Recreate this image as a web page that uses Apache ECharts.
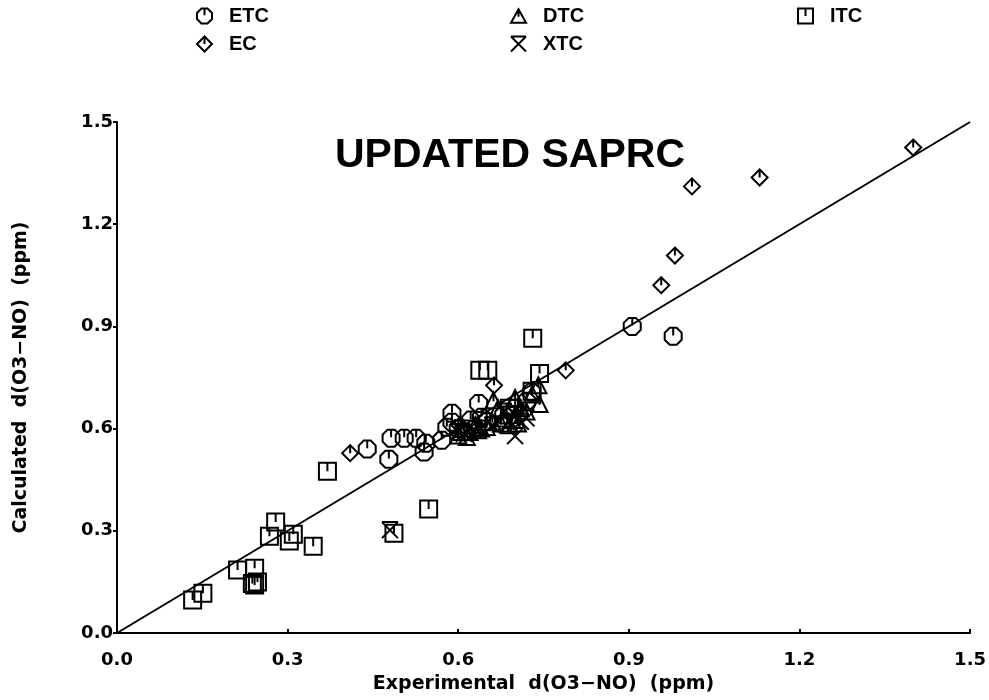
<!DOCTYPE html>
<html>
<head>
    <meta charset="utf-8">
    <title>UPDATED SAPRC</title>
    <script type="text/javascript" src="https://cdn.jsdelivr.net/npm/echarts@6/dist/echarts.min.js"></script>
</head>
<body style="margin:0;background:#fff;">
<div id="main" style="width:989px;height:700px;"></div>
<script type="text/javascript">
    // experimental vs calculated d(O3-NO), ppm
    var etcData = [[0.906,0.900],[0.978,0.871],[0.44,0.540],[0.478,0.51],[0.482,0.572],[0.505,0.572],
        [0.526,0.572],[0.543,0.557],[0.54,0.531],[0.571,0.566],[0.589,0.645],[0.589,0.619],[0.58,0.604],
        [0.622,0.625],[0.636,0.674],[0.641,0.633],[0.729,0.707],[0.60,0.60],[0.61,0.59],[0.65,0.62],
        [0.68,0.64],[0.70,0.66],[0.72,0.68]];
    var ecData = [[1.40,1.425],[1.13,1.337],[1.011,1.311],[0.981,1.108],[0.957,1.021],[0.789,0.771],
        [0.41,0.528],[0.663,0.727]];
    var dtcData = [[0.743,0.672],[0.741,0.727],[0.662,0.683],[0.60,0.58],[0.62,0.59],[0.63,0.61],
        [0.64,0.60],[0.66,0.62],[0.68,0.63],[0.69,0.61],[0.70,0.64],[0.71,0.66],[0.72,0.65],
        [0.70,0.69],[0.73,0.70],[0.61,0.60],[0.67,0.66],[0.605,0.59],[0.615,0.575],[0.635,0.595],
        [0.65,0.605],[0.675,0.615],[0.695,0.625],[0.705,0.615]];
    var xtcData = [[0.48,0.302],[0.70,0.578],[0.60,0.59],[0.61,0.585],[0.62,0.60],[0.69,0.62],
        [0.70,0.64],[0.71,0.62],[0.68,0.65],[0.64,0.60],[0.66,0.61],[0.72,0.63]];
    var itcData = [[0.731,0.865],[0.638,0.771],[0.652,0.771],[0.743,0.762],[0.37,0.475],[0.548,0.364],
        [0.487,0.293],[0.279,0.326],[0.268,0.284],[0.31,0.29],[0.303,0.27],[0.345,0.255],[0.212,0.185],
        [0.242,0.19],[0.242,0.141],[0.238,0.145],[0.247,0.15],[0.151,0.117],[0.133,0.097],[0.73,0.71],
        [0.69,0.66]];
    var refLine = [[0, 0], [1.5, 1.5]];

    // marker outlines, each with the little tick on top
    var symOct = 'path://M-4.1,-10L4.1,-10L10,-4.1L10,4.1L4.1,10L-4.1,10L-10,4.1L-10,-4.1ZM0,-10L0,-1';
    var symDia = 'path://M0,-10L10,0L0,10L-10,0ZM0,-10L0,0';
    var symTri = 'path://M0,-10L10,8L-10,8ZM0,-10L0,0';
    var symSq = 'path://M-10,-10L10,-10L10,10L-10,10ZM0,-10L0,0';
    var symX = 'path://M-10,-10L10,-10M-10,-10L10,10M10,-10L-10,10';

    var font = 'DejaVu Sans';
    function pts(name, data, sym, size) {
        return {
            name: name,
            type: 'scatter',
            data: data,
            symbol: sym,
            symbolSize: size,
            itemStyle: {color: 'rgba(255,255,255,0)', borderColor: '#000', borderWidth: 2, opacity: 1}
        };
    }
    function leg(names, left) {
        return {
            data: names, orient: 'vertical', left: left, top: 6, itemGap: 8, padding: 0,
            itemWidth: 15, itemHeight: 15,
            textStyle: {fontFamily: 'Liberation Sans', fontWeight: 'bold', fontSize: 20, color: '#000', padding: [0, 0, 0, 12]}
        };
    }

    var myChart = echarts.init(document.getElementById('main'));
    myChart.setOption({
        animation: false,
        backgroundColor: '#fff',
        title: {
            text: 'UPDATED SAPRC',
            left: 505,
            textAlign: 'center',
            top: 130,
            textStyle: {fontFamily: 'Liberation Sans', fontWeight: 'bold', fontSize: 41, color: '#000'}
        },
        legend: [leg(['ETC', 'EC'], 196), leg(['DTC', 'XTC'], 510), leg(['ITC'], 797)],
        grid: {left: 117, right: 16, top: 122, bottom: 67},
        xAxis: {
            type: 'value', min: 0, max: 1.5, interval: 0.3,
            name: 'Experimental  d(O3\u2212NO)  (ppm)', nameLocation: 'middle', nameGap: 42,
            nameTextStyle: {fontFamily: font, fontWeight: 'bold', fontSize: 19, color: '#000'},
            axisLine: {lineStyle: {color: '#000', width: 2}},
            axisTick: {inside: true, length: 4, lineStyle: {color: '#000', width: 2}},
            axisLabel: {
                fontFamily: font, fontWeight: 'bold', fontSize: 18, color: '#000', margin: 18,
                formatter: function (v) { return v.toFixed(1); }
            },
            splitLine: {show: false}
        },
        yAxis: {
            type: 'value', min: 0, max: 1.5, interval: 0.3,
            name: 'Calculated  d(O3\u2212NO)  (ppm)', nameLocation: 'middle', nameGap: 86,
            nameTextStyle: {fontFamily: font, fontWeight: 'bold', fontSize: 19, color: '#000'},
            axisLine: {lineStyle: {color: '#000', width: 2}},
            axisTick: {length: 4, lineStyle: {color: '#000', width: 2}},
            axisLabel: {
                fontFamily: font, fontWeight: 'bold', fontSize: 18, color: '#000', margin: 4,
                formatter: function (v) { return v.toFixed(1); }
            },
            splitLine: {show: false}
        },
        series: [
            {
                name: '1:1', type: 'line', data: refLine, symbol: 'none', silent: true,
                lineStyle: {color: '#000', width: 2}, z: 1
            },
            pts('ETC', etcData, symOct, 17),
            pts('EC', ecData, symDia, 16),
            pts('DTC', dtcData, symTri, 16),
            pts('XTC', xtcData, symX, 16),
            pts('ITC', itcData, symSq, 17)
        ]
    });
</script>
</body>
</html>
